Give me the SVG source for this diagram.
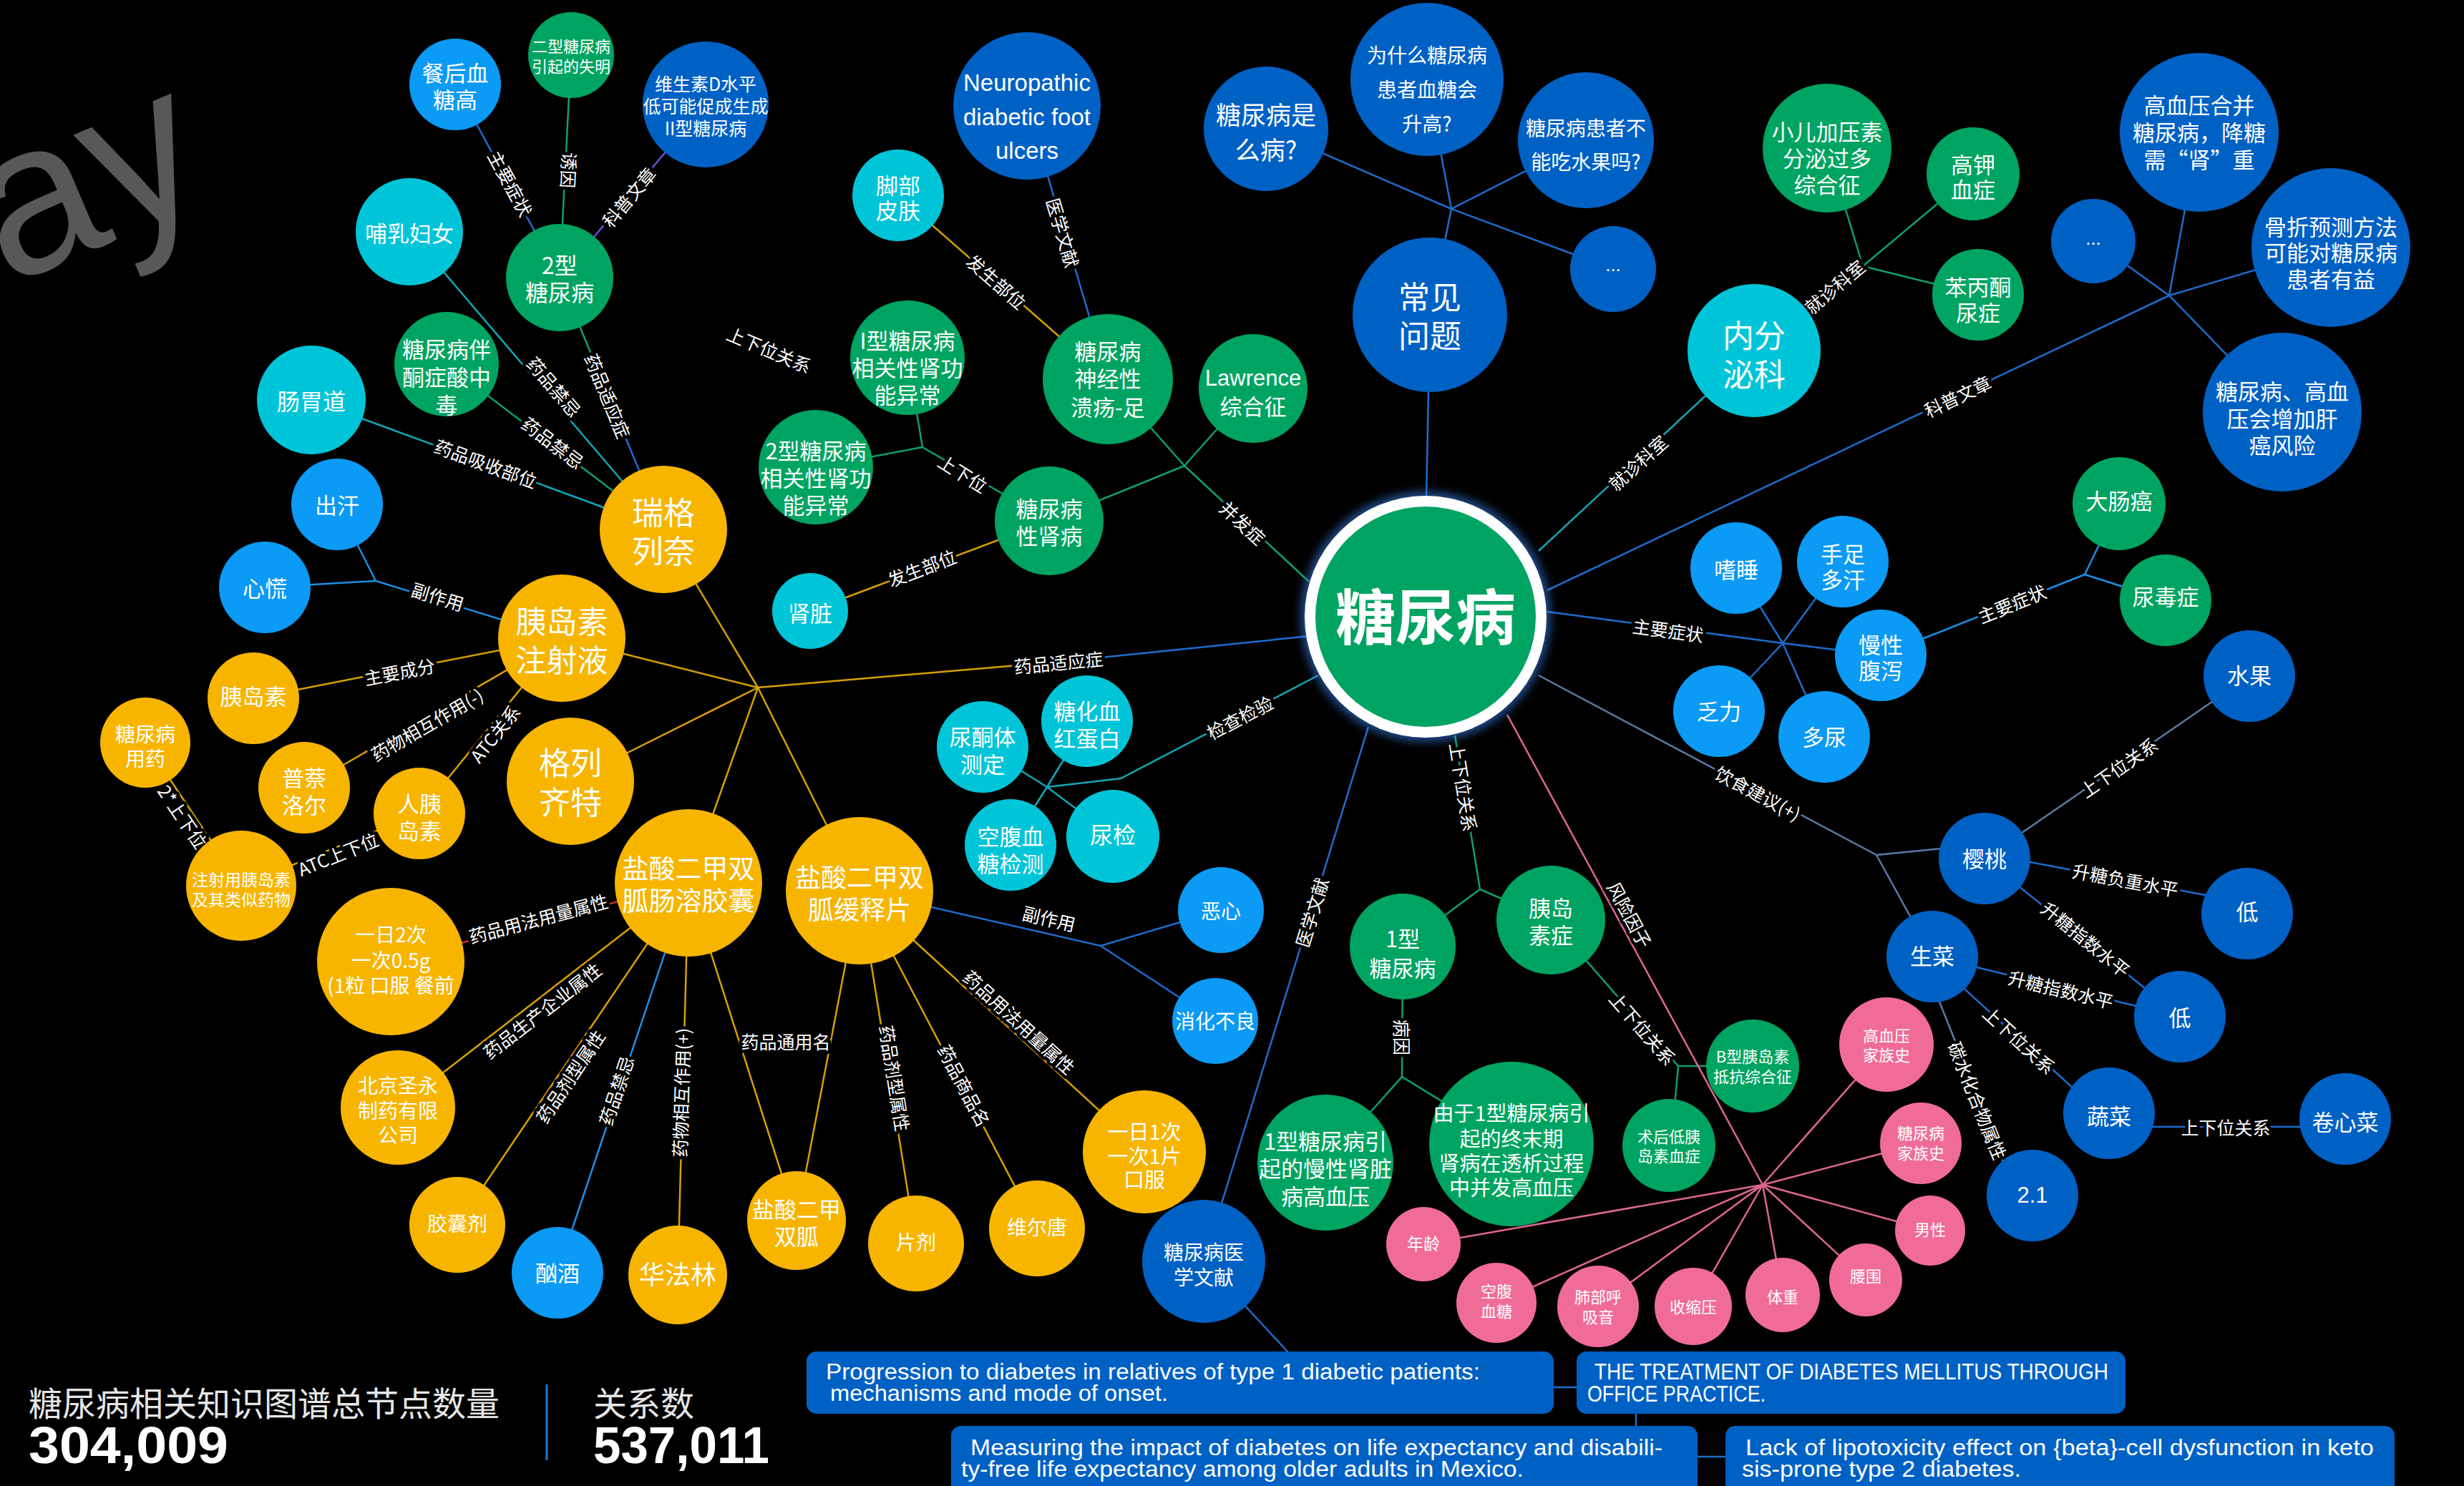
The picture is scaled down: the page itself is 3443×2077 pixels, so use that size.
<svg xmlns="http://www.w3.org/2000/svg" width="3443" height="2077" viewBox="0 0 3443 2077">
<defs>
<style>
.g{fill:#00A462}.b{fill:#0061C5}.lb{fill:#0B9AF5}.c{fill:#00C5D8}.y{fill:#F7B500}.p{fill:#F06C97}
.t{fill:#fff;font-family:"Noto Sans CJK SC","Noto Sans",sans-serif;text-anchor:middle;dominant-baseline:central}
.en{font-family:"Liberation Sans","Noto Sans CJK SC",sans-serif}
#connectors line,#connectors polyline{fill:none;stroke-width:2.5}
.sB{stroke:#1e6ccc}.sLB{stroke:#1a8fe3}.sG{stroke:#0fa068}.sT{stroke:#13a7b8}.sY{stroke:#d6a000}.sP{stroke:#de6790}.sS{stroke:#5a7aa6}.sPu{stroke:#6b4fd8}.sR{stroke:#c43228}
.lab text{fill:#fff;font-size:25px;font-family:"Noto Sans CJK SC","Noto Sans",sans-serif;stroke:#000;stroke-width:9px;stroke-linejoin:round;paint-order:stroke;text-anchor:middle;dominant-baseline:central}
.pt{fill:#fff;font-family:"Liberation Sans","Noto Sans",sans-serif;font-size:31px}
.st1{fill:#e6e6e6;font-family:"Noto Sans CJK SC","Noto Sans",sans-serif;font-size:47px;dominant-baseline:central}
.num{fill:#fff;font-family:"Liberation Sans",sans-serif;font-size:72px;font-weight:bold}
</style>
<filter id="glow" x="-30%" y="-30%" width="160%" height="160%"><feGaussianBlur stdDeviation="7"/></filter>
</defs>
<rect width="3443" height="2077" fill="#000"/>
<text transform="translate(10,400) rotate(-23)" font-family="Liberation Sans, sans-serif" font-size="300" fill="#585858">ay</text>

<g id="connectors">
<line class="sB" x1="782" y1="388" x2="636" y2="118"/>
<line class="sG" x1="782" y1="388" x2="798" y2="77"/>
<line class="sPu" x1="782" y1="388" x2="986" y2="146"/>
<line class="sG" x1="782" y1="388" x2="850" y2="553"/>
<line class="sB" x1="850" y1="553" x2="927" y2="740"/>
<line class="sT" x1="927" y1="740" x2="572" y2="324"/>
<line class="sG" x1="927" y1="740" x2="624" y2="509"/>
<line class="sT" x1="927" y1="740" x2="435" y2="559"/>
<polyline class="sLB" points="785,892 525,812 471,705"/>
<line class="sLB" x1="525" y1="812" x2="370" y2="821"/>
<line class="sY" x1="785" y1="892" x2="354" y2="976"/>
<line class="sY" x1="785" y1="892" x2="425" y2="1101"/>
<line class="sY" x1="785" y1="892" x2="586" y2="1137"/>
<line class="sY" x1="586" y1="1137" x2="337" y2="1238"/>
<line class="sY" x1="203" y1="1038" x2="337" y2="1238"/>
<line class="sY" x1="1059" y1="961" x2="927" y2="740"/>
<line class="sY" x1="1059" y1="961" x2="785" y2="892"/>
<line class="sY" x1="1059" y1="961" x2="797" y2="1092"/>
<line class="sY" x1="1059" y1="961" x2="962" y2="1234"/>
<line class="sY" x1="1059" y1="961" x2="1201" y2="1245"/>
<line class="sY" x1="1059" y1="961" x2="1480" y2="925"/>
<line class="sB" x1="1480" y1="925" x2="1830" y2="889"/>
<line class="sR" x1="962" y1="1234" x2="546" y2="1344"/>
<line class="sY" x1="962" y1="1234" x2="556" y2="1548"/>
<line class="sY" x1="962" y1="1234" x2="639" y2="1712"/>
<line class="sLB" x1="962" y1="1234" x2="779" y2="1779"/>
<line class="sY" x1="962" y1="1234" x2="947" y2="1782"/>
<line class="sY" x1="962" y1="1234" x2="1113" y2="1706"/>
<line class="sY" x1="1201" y1="1245" x2="1113" y2="1706"/>
<line class="sY" x1="1201" y1="1245" x2="1280" y2="1738"/>
<line class="sY" x1="1201" y1="1245" x2="1449" y2="1717"/>
<line class="sY" x1="1201" y1="1245" x2="1599" y2="1610"/>
<polyline class="sB" points="1201,1245 1538,1322 1706,1272"/>
<line class="sB" x1="1538" y1="1322" x2="1698" y2="1427"/>
<line class="sY" x1="1466" y1="728" x2="1132" y2="854"/>
<polyline class="sG" points="1466,728 1289,625 1268,500"/>
<line class="sG" x1="1289" y1="625" x2="1140" y2="653"/>
<line class="sY" x1="1548" y1="530" x2="1255" y2="273"/>
<line class="sB" x1="1548" y1="530" x2="1435" y2="148"/>
<line class="sG" x1="1655" y1="651" x2="1829" y2="813"/>
<line class="sG" x1="1655" y1="651" x2="1548" y2="530"/>
<line class="sG" x1="1655" y1="651" x2="1466" y2="728"/>
<line class="sG" x1="1655" y1="651" x2="1751" y2="543"/>
<line class="sB" x1="1998" y1="440" x2="1993" y2="700"/>
<line class="sB" x1="1998" y1="440" x2="2028" y2="292"/>
<line class="sB" x1="2028" y1="292" x2="1769" y2="180"/>
<line class="sB" x1="2028" y1="292" x2="1994" y2="111"/>
<line class="sB" x1="2028" y1="292" x2="2216" y2="196"/>
<line class="sB" x1="2028" y1="292" x2="2254" y2="376"/>
<line class="sT" x1="2150" y1="770" x2="2451" y2="490"/>
<line class="sG" x1="2451" y1="490" x2="2603" y2="372"/>
<line class="sG" x1="2603" y1="372" x2="2553" y2="207"/>
<line class="sG" x1="2603" y1="372" x2="2757" y2="243"/>
<line class="sG" x1="2603" y1="372" x2="2764" y2="412"/>
<line class="sB" x1="2162" y1="825" x2="3031" y2="413"/>
<line class="sB" x1="3031" y1="413" x2="3073" y2="185"/>
<line class="sB" x1="3031" y1="413" x2="2925" y2="337"/>
<line class="sB" x1="3031" y1="413" x2="3257" y2="346"/>
<line class="sB" x1="3031" y1="413" x2="3189" y2="576"/>
<polyline class="sB" points="2162,855 2491,899 2628,916"/>
<line class="sB" x1="2491" y1="899" x2="2426" y2="794"/>
<line class="sB" x1="2491" y1="899" x2="2549" y2="1030"/>
<line class="sB" x1="2491" y1="899" x2="2575" y2="785"/>
<line class="sB" x1="2491" y1="899" x2="2402" y2="994"/>
<line class="sLB" x1="2628" y1="916" x2="2913" y2="803"/>
<line class="sLB" x1="2913" y1="803" x2="2961" y2="704"/>
<line class="sLB" x1="2913" y1="803" x2="3026" y2="839"/>
<line class="sS" x1="2150" y1="944" x2="2622" y2="1195"/>
<line class="sS" x1="2622" y1="1195" x2="2773" y2="1180"/>
<line class="sS" x1="2622" y1="1195" x2="2700" y2="1337"/>
<line class="sS" x1="2773" y1="1200" x2="3143" y2="945"/>
<line class="sB" x1="2773" y1="1193" x2="3140" y2="1262"/>
<line class="sB" x1="2773" y1="1200" x2="3046" y2="1421"/>
<line class="sB" x1="2700" y1="1337" x2="3046" y2="1421"/>
<line class="sB" x1="2700" y1="1341" x2="2947" y2="1567"/>
<line class="sS" x1="2690" y1="1350" x2="2818" y2="1671"/>
<line class="sB" x1="2947" y1="1575" x2="3277" y2="1575"/>
<line class="sG" x1="2033" y1="1028" x2="2068" y2="1243"/>
<line class="sG" x1="2068" y1="1243" x2="1960" y2="1323"/>
<line class="sG" x1="2068" y1="1243" x2="2167" y2="1286"/>
<polyline class="sG" points="1960,1323 1959,1505 1852,1625"/>
<line class="sG" x1="1959" y1="1505" x2="2112" y2="1599"/>
<line class="sG" x1="2167" y1="1286" x2="2345" y2="1490"/>
<line class="sG" x1="2345" y1="1490" x2="2449" y2="1490"/>
<line class="sG" x1="2345" y1="1490" x2="2335" y2="1601"/>
<line class="sP" x1="2106" y1="999" x2="2463" y2="1656"/>
<line class="sP" x1="2463" y1="1656" x2="1989" y2="1739"/>
<line class="sP" x1="2463" y1="1656" x2="2091" y2="1821"/>
<line class="sP" x1="2463" y1="1656" x2="2233" y2="1826"/>
<line class="sP" x1="2463" y1="1656" x2="2366" y2="1826"/>
<line class="sP" x1="2463" y1="1656" x2="2491" y2="1810"/>
<line class="sP" x1="2463" y1="1656" x2="2607" y2="1789"/>
<line class="sP" x1="2463" y1="1656" x2="2697" y2="1720"/>
<line class="sP" x1="2463" y1="1656" x2="2684" y2="1598"/>
<line class="sP" x1="2463" y1="1656" x2="2636" y2="1460"/>
<line class="sB" x1="1912" y1="1016" x2="1682" y2="1763"/>
<line class="sB" x1="1682" y1="1763" x2="1800" y2="1890"/>
<line class="sB" x1="2165" y1="1939" x2="2210" y2="1939"/>
<line class="sB" x1="2286" y1="1970" x2="2286" y2="2000"/>
<line class="sB" x1="2365" y1="2036" x2="2418" y2="2036"/>
<polyline class="sT" points="1842,944 1566,1088 1463,1100"/>
<line class="sT" x1="1463" y1="1100" x2="1373" y2="1044"/>
<line class="sT" x1="1463" y1="1100" x2="1519" y2="1008"/>
<line class="sT" x1="1463" y1="1100" x2="1412" y2="1181"/>
<line class="sT" x1="1463" y1="1100" x2="1555" y2="1169"/>
</g>

<g id="edge-labels" class="lab">
<text transform="translate(714,256) rotate(61.6)">主要症状</text>
<text transform="translate(796,238) rotate(93)">诱因</text>
<text transform="translate(878,275) rotate(-50)">科普文章</text>
<text transform="translate(850,553) rotate(67.6)">药品适应症</text>
<text transform="translate(775,540) rotate(49.5)">药品禁忌</text>
<text transform="translate(773,618) rotate(37.3)">药品禁忌</text>
<text transform="translate(679,647) rotate(20.2)">药品吸收部位</text>
<text transform="translate(612,833) rotate(17)">副作用</text>
<text transform="translate(558,938) rotate(-11)">主要成分</text>
<text transform="translate(596,1012) rotate(-30)">药物相互作用(-)</text>
<text transform="translate(691,1025) rotate(-51)">ATC关系</text>
<text transform="translate(472,1193) rotate(-22)">ATC上下位</text>
<text transform="translate(256,1141) rotate(56)">2*上下位</text>
<text transform="translate(1479,925) rotate(-5.4)">药品适应症</text>
<text transform="translate(752,1283) rotate(-14.8)">药品用法用量属性</text>
<text transform="translate(757,1412) rotate(-37.7)">药品生产企业属性</text>
<text transform="translate(796,1504) rotate(-56)">药品剂型属性</text>
<text transform="translate(860,1524) rotate(-71.4)">药品禁忌</text>
<text transform="translate(951,1527) rotate(-88.4)">药物相互作用(+)</text>
<text transform="translate(1098,1455)">药品通用名</text>
<text transform="translate(1251,1507) rotate(81)">药品剂型属性</text>
<text transform="translate(1348,1517) rotate(62.3)">药品商品名</text>
<text transform="translate(1425,1428) rotate(42.5)">药品用法用量属性</text>
<text transform="translate(1466,1283) rotate(13)">副作用</text>
<text transform="translate(1288,793) rotate(-20.7)">发生部位</text>
<text transform="translate(1346,661) rotate(32)">上下位</text>
<text transform="translate(1393,393) rotate(41.3)">发生部位</text>
<text transform="translate(1486,325) rotate(73.5)">医学文献</text>
<text transform="translate(1737,730) rotate(43)">并发症</text>
<text transform="translate(2288,646) rotate(-42)">就诊科室</text>
<text transform="translate(2563,400) rotate(-40)">就诊科室</text>
<text transform="translate(2735,553) rotate(-25.4)">科普文章</text>
<text transform="translate(2331,880) rotate(7.6)">主要症状</text>
<text transform="translate(2811,843) rotate(-22)">主要症状</text>
<text transform="translate(2457,1108) rotate(28)">饮食建议(+)</text>
<text transform="translate(2960,1072) rotate(-34.6)">上下位关系</text>
<text transform="translate(2970,1229) rotate(10.6)">升糖负重水平</text>
<text transform="translate(2915,1312) rotate(39)">升糖指数水平</text>
<text transform="translate(2880,1382) rotate(13.6)">升糖指数水平</text>
<text transform="translate(2822,1453) rotate(42.5)">上下位关系</text>
<text transform="translate(2764,1538) rotate(68)">碳水化合物属性</text>
<text transform="translate(3110,1575)">上下位关系</text>
<text transform="translate(2046,1100) rotate(81)">上下位关系</text>
<text transform="translate(1960,1450) rotate(90)">病因</text>
<text transform="translate(2296,1437) rotate(49)">上下位关系</text>
<text transform="translate(2278,1278) rotate(61.5)">风险因子</text>
<text transform="translate(1832,1275) rotate(-73)">医学文献</text>
<text transform="translate(1732,1002) rotate(-27.5)">检查检验</text>
<text transform="translate(1075,488) rotate(23)">上下位关系</text>
</g>

<g id="nodes">
<g id="n-canhou"><circle class="lb" cx="636" cy="118" r="64"/><text class="t" font-size="31"><tspan x="636" y="100">餐后血</tspan><tspan x="636" y="137">糖高</tspan></text></g>
<g id="n-shiming"><circle class="g" cx="798" cy="77" r="60"/><text class="t" font-size="22"><tspan x="798" y="63">二型糖尿病</tspan><tspan x="798" y="91">引起的失明</tspan></text></g>
<g id="n-vitd"><circle class="b" cx="986" cy="146" r="88"/><text class="t" font-size="25"><tspan x="986" y="116">维生素D水平</tspan><tspan x="986" y="147">低可能促成生成</tspan><tspan x="986" y="178">II型糖尿病</tspan></text></g>
<g id="n-buru"><circle class="c" cx="572" cy="324" r="75"/><text class="t" font-size="31" x="572" y="324">哺乳妇女</text></g>
<g id="n-t2"><circle class="g" cx="782" cy="388" r="75"/><text class="t" font-size="32"><tspan x="782" y="369">2型</tspan><tspan x="782" y="407">糖尿病</tspan></text></g>
<g id="n-tz"><circle class="g" cx="624" cy="509" r="73"/><text class="t" font-size="31"><tspan x="624" y="486">糖尿病伴</tspan><tspan x="624" y="525">酮症酸中</tspan><tspan x="624" y="564">毒</tspan></text></g>
<g id="n-cwd"><circle class="c" cx="435" cy="559" r="76"/><text class="t" font-size="32" x="435" y="559">肠胃道</text></g>
<g id="n-chuhan"><circle class="lb" cx="471" cy="705" r="64"/><text class="t" font-size="31" x="471" y="704">出汗</text></g>
<g id="n-xinhuang"><circle class="lb" cx="370" cy="821" r="64"/><text class="t" font-size="31" x="370" y="820">心慌</text></g>
<g id="n-rglm"><circle class="y" cx="927" cy="740" r="89"/><text class="t" font-size="44"><tspan x="927" y="714">瑞格</tspan><tspan x="927" y="768">列奈</tspan></text></g>
<g id="n-ydszsy"><circle class="y" cx="785" cy="892" r="89"/><text class="t" font-size="43"><tspan x="785" y="866">胰岛素</tspan><tspan x="785" y="920">注射液</tspan></text></g>
<g id="n-yds"><circle class="y" cx="354" cy="976" r="64"/><text class="t" font-size="31" x="354" y="971">胰岛素</text></g>
<g id="n-tnbyy"><circle class="y" cx="203" cy="1038" r="63"/><text class="t" font-size="28"><tspan x="203" y="1025">糖尿病</tspan><tspan x="203" y="1059">用药</tspan></text></g>
<g id="n-pnle"><circle class="y" cx="425" cy="1101" r="64"/><text class="t" font-size="31"><tspan x="425" y="1085">普萘</tspan><tspan x="425" y="1123">洛尔</tspan></text></g>
<g id="n-ryds"><circle class="y" cx="586" cy="1137" r="64"/><text class="t" font-size="31"><tspan x="586" y="1121">人胰</tspan><tspan x="586" y="1159">岛素</tspan></text></g>
<g id="n-glqt"><circle class="y" cx="797" cy="1092" r="89"/><text class="t" font-size="44"><tspan x="797" y="1064">格列</tspan><tspan x="797" y="1119">齐特</tspan></text></g>
<g id="n-zsy"><circle class="y" cx="337" cy="1238" r="77"/><text class="t" font-size="23"><tspan x="337" y="1228">注射用胰岛素</tspan><tspan x="337" y="1256">及其类似药物</tspan></text></g>
<g id="n-ctjn"><circle class="y" cx="962" cy="1234" r="103"/><text class="t" font-size="37"><tspan x="962" y="1212">盐酸二甲双</tspan><tspan x="962" y="1257">胍肠溶胶囊</tspan></text></g>
<g id="n-yr2"><circle class="y" cx="546" cy="1344" r="103"/><text class="t" font-size="28"><tspan x="546" y="1305">一日2次</tspan><tspan x="546" y="1341">一次0.5g</tspan><tspan x="546" y="1376">(1粒 口服 餐前</tspan></text></g>
<g id="n-bjsy"><circle class="y" cx="556" cy="1548" r="80"/><text class="t" font-size="28"><tspan x="556" y="1516">北京圣永</tspan><tspan x="556" y="1551">制药有限</tspan><tspan x="556" y="1585">公司</tspan></text></g>
<g id="n-jnj"><circle class="y" cx="639" cy="1712" r="67"/><text class="t" font-size="28" x="639" y="1709">胶囊剂</text></g>
<g id="n-xj"><circle class="lb" cx="779" cy="1779" r="64"/><text class="t" font-size="31" x="779" y="1777">酗酒</text></g>
<g id="n-hfl"><circle class="y" cx="947" cy="1782" r="69"/><text class="t" font-size="36" x="947" y="1779">华法林</text></g>
<g id="n-ejsg"><circle class="y" cx="1113" cy="1706" r="69"/><text class="t" font-size="31"><tspan x="1113" y="1688">盐酸二甲</tspan><tspan x="1113" y="1726">双胍</tspan></text></g>
<g id="n-pj"><circle class="y" cx="1280" cy="1738" r="67"/><text class="t" font-size="28" x="1280" y="1735">片剂</text></g>
<g id="n-wet"><circle class="y" cx="1449" cy="1717" r="67"/><text class="t" font-size="28" x="1449" y="1714">维尔唐</text></g>
<g id="n-hsp"><circle class="y" cx="1201" cy="1245" r="103"/><text class="t" font-size="36"><tspan x="1201" y="1224">盐酸二甲双</tspan><tspan x="1201" y="1269">胍缓释片</tspan></text></g>
<g id="n-yr1"><circle class="y" cx="1599" cy="1610" r="86"/><text class="t" font-size="29"><tspan x="1599" y="1580">一日1次</tspan><tspan x="1599" y="1614">一次1片</tspan><tspan x="1599" y="1647">口服</tspan></text></g>
<g id="n-ex"><circle class="lb" cx="1706" cy="1272" r="60"/><text class="t" font-size="28" x="1706" y="1272">恶心</text></g>
<g id="n-xhbl"><circle class="lb" cx="1698" cy="1427" r="60"/><text class="t" font-size="28" x="1698" y="1426">消化不良</text></g>
<g id="n-wxwx"><circle class="b" cx="1682" cy="1763" r="86"/><text class="t" font-size="28"><tspan x="1682" y="1749">糖尿病医</tspan><tspan x="1682" y="1784">学文献</tspan></text></g>

<g id="n-neuro"><circle class="b" cx="1435" cy="148" r="103"/><text class="t en" font-size="33"><tspan x="1435" y="115">Neuropathic</tspan><tspan x="1435" y="163">diabetic foot</tspan><tspan x="1435" y="210">ulcers</tspan></text></g>
<g id="n-jbpf"><circle class="c" cx="1255" cy="273" r="64"/><text class="t" font-size="31"><tspan x="1255" y="257">脚部</tspan><tspan x="1255" y="292">皮肤</tspan></text></g>
<g id="n-sjx"><circle class="g" cx="1548" cy="530" r="91"/><text class="t" font-size="31"><tspan x="1548" y="489">糖尿病</tspan><tspan x="1548" y="527">神经性</tspan><tspan x="1548" y="567">溃疡-足</tspan></text></g>
<g id="n-law"><circle class="g" cx="1751" cy="543" r="76"/><text class="t" font-size="31"><tspan x="1751" y="528" class="en">Lawrence</tspan><tspan x="1751" y="566">综合征</tspan></text></g>
<g id="n-ik"><circle class="g" cx="1268" cy="500" r="80"/><text class="t" font-size="31"><tspan x="1268" y="474">I型糖尿病</tspan><tspan x="1268" y="512">相关性肾功</tspan><tspan x="1268" y="550">能异常</tspan></text></g>
<g id="n-2k"><circle class="g" cx="1140" cy="653" r="80"/><text class="t" font-size="31"><tspan x="1140" y="628">2型糖尿病</tspan><tspan x="1140" y="666">相关性肾功</tspan><tspan x="1140" y="704">能异常</tspan></text></g>
<g id="n-xsb"><circle class="g" cx="1466" cy="728" r="76"/><text class="t" font-size="31"><tspan x="1466" y="709">糖尿病</tspan><tspan x="1466" y="747">性肾病</tspan></text></g>
<g id="n-sz"><circle class="c" cx="1132" cy="854" r="53"/><text class="t" font-size="31" x="1132" y="855">肾脏</text></g>
<g id="n-ntt"><circle class="c" cx="1373" cy="1044" r="64"/><text class="t" font-size="31"><tspan x="1373" y="1028">尿酮体</tspan><tspan x="1373" y="1066">测定</tspan></text></g>
<g id="n-thx"><circle class="c" cx="1519" cy="1008" r="64"/><text class="t" font-size="31"><tspan x="1519" y="992">糖化血</tspan><tspan x="1519" y="1030">红蛋白</tspan></text></g>
<g id="n-kfx"><circle class="c" cx="1412" cy="1181" r="64"/><text class="t" font-size="31"><tspan x="1412" y="1167">空腹血</tspan><tspan x="1412" y="1205">糖检测</tspan></text></g>
<g id="n-nj"><circle class="c" cx="1555" cy="1169" r="65"/><text class="t" font-size="32" x="1555" y="1165">尿检</text></g>
<g id="n-cjwt"><circle class="b" cx="1998" cy="440" r="108"/><text class="t" font-size="44"><tspan x="1998" y="413">常见</tspan><tspan x="1998" y="467">问题</tspan></text></g>
<g id="n-smb"><circle class="b" cx="1769" cy="180" r="87"/><text class="t" font-size="35"><tspan x="1769" y="158">糖尿病是</tspan><tspan x="1769" y="207">么病?</tspan></text></g>
<g id="n-wsm"><circle class="b" cx="1994" cy="111" r="107"/><text class="t" font-size="28"><tspan x="1994" y="76">为什么糖尿病</tspan><tspan x="1994" y="124">患者血糖会</tspan><tspan x="1994" y="172">升高?</tspan></text></g>
<g id="n-sg"><circle class="b" cx="2216" cy="196" r="95"/><text class="t" font-size="28"><tspan x="2216" y="178">糖尿病患者不</tspan><tspan x="2216" y="225">能吃水果吗?</tspan></text></g>
<g id="n-d1"><circle class="b" cx="2254" cy="376" r="60"/><text class="t en" font-size="26" x="2254" y="370">...</text></g>
<g id="n-main"><circle cx="1992" cy="862" r="174" fill="#3d8bff" opacity="0.6" filter="url(#glow)"/><circle cx="1992" cy="862" r="169" fill="#fff"/><circle class="g" cx="1992" cy="862" r="154"/><text class="t" font-size="84" font-weight="bold" x="1992" y="857">糖尿病</text></g>
<g id="n-1x"><circle class="g" cx="1960" cy="1323" r="74"/><text class="t" font-size="31"><tspan x="1960" y="1310">1型</tspan><tspan x="1960" y="1351">糖尿病</tspan></text></g>
<g id="n-ydsz"><circle class="g" cx="2167" cy="1286" r="76"/><text class="t" font-size="31"><tspan x="2167" y="1267">胰岛</tspan><tspan x="2167" y="1305">素症</tspan></text></g>
<g id="n-mxsz"><circle class="g" cx="1852" cy="1625" r="95"/><text class="t" font-size="31"><tspan x="1852" y="1593">1型糖尿病引</tspan><tspan x="1852" y="1631">起的慢性肾脏</tspan><tspan x="1852" y="1670">病高血压</tspan></text></g>
<g id="n-zmq"><circle class="g" cx="2112" cy="1599" r="115"/><text class="t" font-size="29"><tspan x="2112" y="1554">由于1型糖尿病引</tspan><tspan x="2112" y="1590">起的终末期</tspan><tspan x="2112" y="1624">肾病在透析过程</tspan><tspan x="2112" y="1658">中并发高血压</tspan></text></g>
<g id="n-bx"><circle class="g" cx="2449" cy="1490" r="65"/><text class="t" font-size="22"><tspan x="2449" y="1475">B型胰岛素</tspan><tspan x="2449" y="1503">抵抗综合征</tspan></text></g>
<g id="n-sh"><circle class="g" cx="2332" cy="1601" r="65"/><text class="t" font-size="22"><tspan x="2332" y="1587">术后低胰</tspan><tspan x="2332" y="1614">岛素血症</tspan></text></g>

<g id="n-nl"><circle class="p" cx="1989" cy="1739" r="52"/><text class="t" font-size="23" x="1989" y="1737">年龄</text></g>
<g id="n-kfxt"><circle class="p" cx="2091" cy="1821" r="56"/><text class="t" font-size="22"><tspan x="2091" y="1803">空腹</tspan><tspan x="2091" y="1831">血糖</tspan></text></g>
<g id="n-fb"><circle class="p" cx="2233" cy="1826" r="57"/><text class="t" font-size="22"><tspan x="2233" y="1811">肺部呼</tspan><tspan x="2233" y="1839">吸音</tspan></text></g>
<g id="n-ssy"><circle class="p" cx="2366" cy="1826" r="54"/><text class="t" font-size="22" x="2366" y="1825">收缩压</text></g>
<g id="n-tizh"><circle class="p" cx="2491" cy="1810" r="52"/><text class="t" font-size="22" x="2491" y="1811">体重</text></g>
<g id="n-yw"><circle class="p" cx="2607" cy="1789" r="51"/><text class="t" font-size="22" x="2607" y="1782">腰围</text></g>
<g id="n-nx"><circle class="p" cx="2697" cy="1720" r="49"/><text class="t" font-size="22" x="2697" y="1717">男性</text></g>
<g id="n-tjzs"><circle class="p" cx="2684" cy="1598" r="57"/><text class="t" font-size="22"><tspan x="2684" y="1582">糖尿病</tspan><tspan x="2684" y="1610">家族史</tspan></text></g>
<g id="n-gjzs"><circle class="p" cx="2636" cy="1460" r="66"/><text class="t" font-size="22"><tspan x="2636" y="1446">高血压</tspan><tspan x="2636" y="1473">家族史</tspan></text></g>

<g id="n-nfm"><circle class="c" cx="2451" cy="490" r="93"/><text class="t" font-size="44"><tspan x="2451" y="467">内分</tspan><tspan x="2451" y="521">泌科</tspan></text></g>
<g id="n-xejy"><circle class="g" cx="2553" cy="207" r="90"/><text class="t" font-size="31"><tspan x="2553" y="182">小儿加压素</tspan><tspan x="2553" y="219">分泌过多</tspan><tspan x="2553" y="256">综合征</tspan></text></g>
<g id="n-gj"><circle class="g" cx="2757" cy="243" r="65"/><text class="t" font-size="31"><tspan x="2757" y="228">高钾</tspan><tspan x="2757" y="263">血症</tspan></text></g>
<g id="n-bbt"><circle class="g" cx="2764" cy="412" r="64"/><text class="t" font-size="31"><tspan x="2764" y="399">苯丙酮</tspan><tspan x="2764" y="435">尿症</tspan></text></g>
<g id="n-gxy"><circle class="b" cx="3073" cy="185" r="111"/><text class="t" font-size="31"><tspan x="3073" y="145">高血压合并</tspan><tspan x="3073" y="183">糖尿病，降糖</tspan><tspan x="3073" y="221">需“肾”重</tspan></text></g>
<g id="n-d2"><circle class="b" cx="2925" cy="337" r="59"/><text class="t en" font-size="26" x="2925" y="333">...</text></g>
<g id="n-gz"><circle class="b" cx="3257" cy="346" r="111"/><text class="t" font-size="31"><tspan x="3257" y="315">骨折预测方法</tspan><tspan x="3257" y="351">可能对糖尿病</tspan><tspan x="3257" y="388">患者有益</tspan></text></g>
<g id="n-ga"><circle class="b" cx="3189" cy="576" r="111"/><text class="t" font-size="31"><tspan x="3189" y="545">糖尿病、高血</tspan><tspan x="3189" y="583">压会增加肝</tspan><tspan x="3189" y="620">癌风险</tspan></text></g>
<g id="n-dca"><circle class="g" cx="2961" cy="704" r="65"/><text class="t" font-size="31" x="2961" y="698">大肠癌</text></g>
<g id="n-ndz"><circle class="g" cx="3026" cy="839" r="64"/><text class="t" font-size="31" x="3026" y="832">尿毒症</text></g>
<g id="n-ss"><circle class="lb" cx="2426" cy="794" r="64"/><text class="t" font-size="31" x="2426" y="794">嗜睡</text></g>
<g id="n-szdh"><circle class="lb" cx="2575" cy="785" r="64"/><text class="t" font-size="31"><tspan x="2575" y="772">手足</tspan><tspan x="2575" y="808">多汗</tspan></text></g>
<g id="n-mxfx"><circle class="lb" cx="2628" cy="916" r="64"/><text class="t" font-size="31"><tspan x="2628" y="899">慢性</tspan><tspan x="2628" y="935">腹泻</tspan></text></g>
<g id="n-fl"><circle class="lb" cx="2402" cy="994" r="64"/><text class="t" font-size="31" x="2402" y="992">乏力</text></g>
<g id="n-dn"><circle class="lb" cx="2549" cy="1030" r="64"/><text class="t" font-size="31" x="2549" y="1028">多尿</text></g>
<g id="n-sgu"><circle class="b" cx="3143" cy="945" r="64"/><text class="t" font-size="31" x="3143" y="942">水果</text></g>
<g id="n-yt"><circle class="b" cx="2773" cy="1200" r="64"/><text class="t" font-size="31" x="2773" y="1198">樱桃</text></g>
<g id="n-di1"><circle class="b" cx="3140" cy="1277" r="64"/><text class="t" font-size="31" x="3140" y="1272">低</text></g>
<g id="n-sc"><circle class="b" cx="2700" cy="1337" r="64"/><text class="t" font-size="31" x="2700" y="1334">生菜</text></g>
<g id="n-di2"><circle class="b" cx="3046" cy="1421" r="64"/><text class="t" font-size="31" x="3046" y="1420">低</text></g>
<g id="n-shc"><circle class="b" cx="2947" cy="1556" r="64"/><text class="t" font-size="31" x="2947" y="1558">蔬菜</text></g>
<g id="n-jxc"><circle class="b" cx="3277" cy="1564" r="64"/><text class="t" font-size="31" x="3277" y="1566">卷心菜</text></g>
<g id="n-21"><circle class="b" cx="2840" cy="1671" r="64"/><text class="t en" font-size="31" x="2840" y="1670">2.1</text></g>

<g id="paper-1"><rect class="b" x="1127" y="1889" width="1044" height="87" rx="14"/><text class="pt" x="1154" y="1928" textLength="914" lengthAdjust="spacingAndGlyphs">Progression to diabetes in relatives of type 1 diabetic patients:</text><text class="pt" x="1160" y="1958" textLength="472" lengthAdjust="spacingAndGlyphs">mechanisms and mode of onset.</text></g>
<g id="paper-2"><rect class="b" x="2203" y="1889" width="767" height="87" rx="14"/><text class="pt" x="2228" y="1928" textLength="718" lengthAdjust="spacingAndGlyphs">THE TREATMENT OF DIABETES MELLITUS THROUGH</text><text class="pt" x="2218" y="1959" textLength="249" lengthAdjust="spacingAndGlyphs">OFFICE PRACTICE.</text></g>
<g id="paper-3"><rect class="b" x="1329" y="1993" width="1043" height="100" rx="14"/><text class="pt" x="1356" y="2034" textLength="967" lengthAdjust="spacingAndGlyphs">Measuring the impact of diabetes on life expectancy and disabili-</text><text class="pt" x="1343" y="2064" textLength="786" lengthAdjust="spacingAndGlyphs">ty-free life expectancy among older adults in Mexico.</text></g>
<g id="paper-4"><rect class="b" x="2411" y="1993" width="935" height="100" rx="14"/><text class="pt" x="2439" y="2034" textLength="878" lengthAdjust="spacingAndGlyphs">Lack of lipotoxicity effect on {beta}-cell dysfunction in keto</text><text class="pt" x="2434" y="2064" textLength="390" lengthAdjust="spacingAndGlyphs">sis-prone type 2 diabetes.</text></g>
</g>

<g id="stats">
<text class="st1" x="40" y="1958">糖尿病相关知识图谱总节点数量</text>
<text class="num" x="40" y="2045" textLength="279" lengthAdjust="spacingAndGlyphs">304,009</text>
<line x1="764" y1="1935" x2="764" y2="2041" stroke="#1a7ad0" stroke-width="3"/>
<text class="st1" x="829" y="1958">关系数</text>
<text class="num" x="829" y="2045" textLength="246" lengthAdjust="spacingAndGlyphs">537,011</text>
</g>
</svg>
